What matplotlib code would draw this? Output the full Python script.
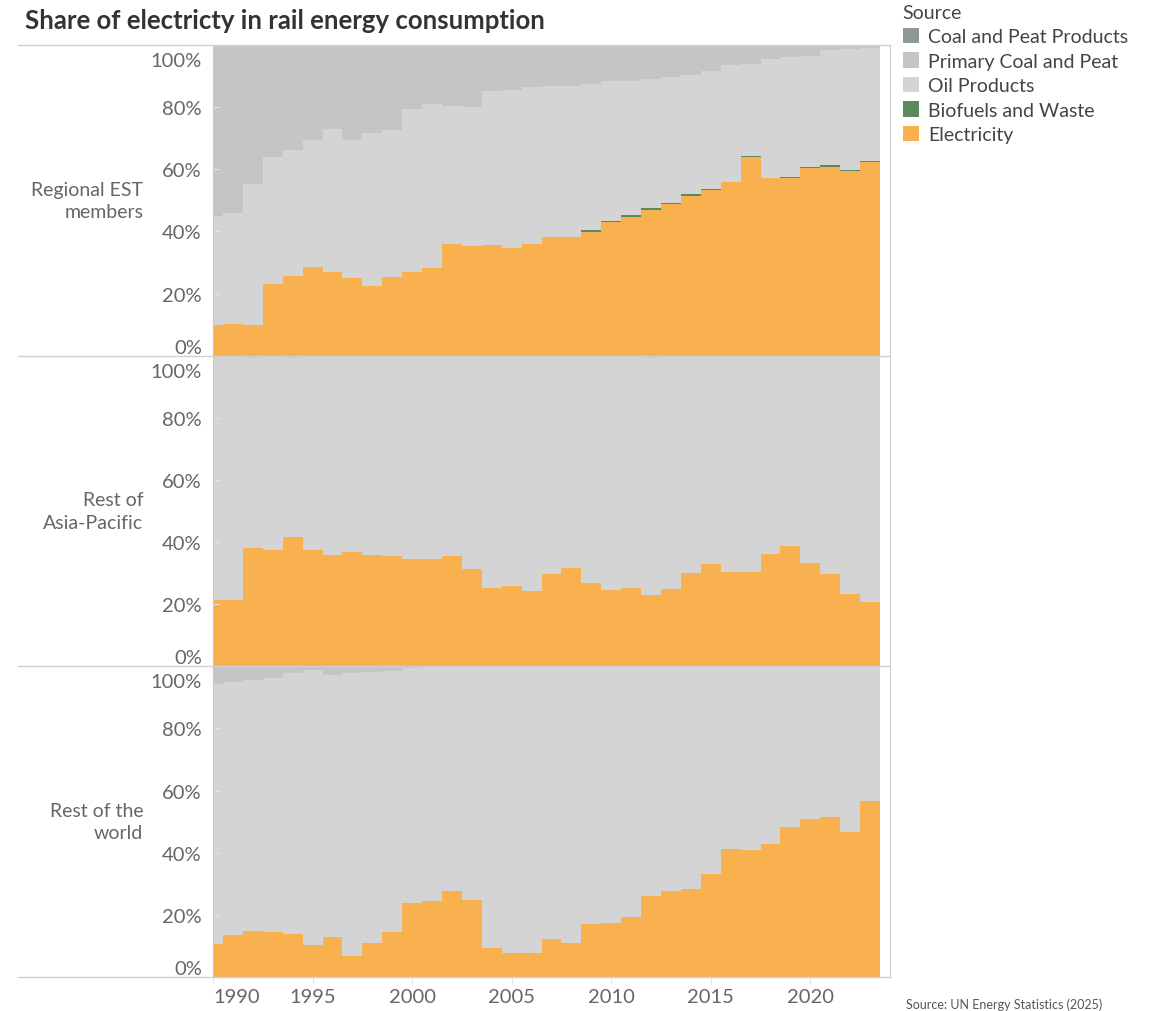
import numpy as np
import matplotlib.pyplot as plt
from matplotlib.patches import Patch
from matplotlib.lines import Line2D
from matplotlib.transforms import ScaledTranslation

plt.rcParams['font.family'] = ['Lato', 'DejaVu Sans']

years = np.arange(1990, 2024)

sources = ['Coal and Peat Products', 'Primary Coal and Peat', 'Oil Products',
           'Biofuels and Waste', 'Electricity']
colors = {'Coal and Peat Products': '#8e989a',
          'Primary Coal and Peat': '#c4c5c4',
          'Oil Products': '#d4d4d4',
          'Biofuels and Waste': '#5b8a5e',
          'Electricity': '#f9b04e'}

regions = ['Regional EST\nmembers', 'Rest of\nAsia-Pacific', 'Rest of the\nworld']

# shares in % (oil products is the remainder to 100%)
est_elec = [10.0, 10.3, 10.0, 23.2, 25.5, 28.4, 26.8, 24.9, 22.3, 25.4,
            26.8, 28.1, 35.8, 35.2, 35.5, 34.8, 36.1, 38.1, 38.1, 39.7,
            42.9, 44.5, 46.8, 48.7, 51.3, 53.2, 55.8, 63.9, 57.1, 57.1,
            60.3, 60.6, 59.4, 62.3]
est_bio = [0, 0, 0, 0, 0, 0, 0, 0, 0, 0,
           0, 0, 0, 0, 0, 0, 0, 0, 0, 0.6,
           0.3, 0.7, 0.6, 0.3, 0.6, 0.3, 0.0, 0.3, 0.0, 0.3,
           0.3, 0.7, 0.3, 0.3]
est_pcoal = [55.2, 54.2, 44.8, 36.1, 33.9, 30.6, 27.1, 30.6, 28.4, 27.4,
             20.6, 19.0, 19.4, 19.7, 14.5, 14.2, 13.2, 12.9, 12.9, 12.3,
             11.3, 11.3, 10.7, 10.0, 9.4, 8.1, 6.2, 5.8, 4.5, 3.9,
             3.5, 1.6, 1.3, 1.0]
est_cprod = [0, 0, 0, 0, 0, 0, 0, 0, 0, 0,
             0, 0, 0.3, 0.3, 0.3, 0.3, 0.3, 0.3, 0.3, 0.3,
             0.3, 0.3, 0.3, 0.3, 0.3, 0.3, 0.3, 0.3, 0, 0,
             0, 0, 0, 0]

ap_elec = [21.2, 21.2, 38.0, 37.6, 41.7, 37.6, 35.7, 36.7, 35.7, 35.4,
           34.6, 34.5, 35.4, 31.2, 25.1, 25.7, 24.1, 29.6, 31.5, 26.7,
           24.7, 25.1, 22.9, 25.0, 30.2, 32.8, 30.5, 30.5, 36.0, 38.6,
           33.4, 29.6, 23.4, 20.7]
ap_bio = [0] * 34
ap_pcoal = [0, 0.2, 0.6, 0.2, 0.9, 0.3, 0.3, 0.3, 0.3, 0.2,
            0, 0, 0, 0, 0, 0, 0, 0.3, 0.3, 0.3,
            0.3, 0.3, 0.6, 0.1, 0.4, 0.4, 0.4, 0.4, 0.4, 0.4,
            0.4, 0.4, 0.4, 0]
ap_cprod = [0] * 34

row_elec = [10.7, 13.4, 14.8, 14.6, 13.9, 10.4, 12.9, 6.8, 11.1, 14.6,
            23.9, 24.6, 27.8, 24.9, 9.4, 7.8, 7.8, 12.3, 10.8, 17.2,
            17.5, 19.4, 26.2, 27.8, 28.2, 33.0, 41.1, 40.8, 42.7, 48.3,
            50.9, 51.4, 46.6, 56.6]
row_bio = [0] * 34
row_pcoal = [5.7, 5.1, 4.4, 3.8, 2.2, 1.2, 2.8, 2.0, 1.8, 1.5,
             0.5, 0, 0, 0, 0, 0, 0, 0, 0, 0,
             0, 0, 0, 0, 0, 0, 0, 0, 0, 0,
             0, 0, 0, 0]
row_cprod = [0] * 34

panel_data = [(est_elec, est_bio, est_pcoal, est_cprod),
              (ap_elec, ap_bio, ap_pcoal, ap_cprod),
              (row_elec, row_bio, row_pcoal, row_cprod)]

W, H = 1158, 1012
fig = plt.figure(figsize=(W / 100, H / 100), dpi=100)

x0, x1 = 213 / W, 890 / W
ytop, ybot = 1 - 46 / H, 1 - 978 / H
ph = (ytop - ybot) / 3

grey_txt = '#666666'
line_col = '#d0d0d0'

# step edges centred on each year, clipped to the first year
edges = np.concatenate([[years[0]], years[1:] - 0.5, [years[-1] + 0.5]])

axes = []
for i, (elec, bio, pcoal, cprod) in enumerate(panel_data):
    ax = fig.add_axes([x0, ytop - (i + 1) * ph, x1 - x0, ph])
    axes.append(ax)
    elec = np.array(elec, float)
    bio = np.array(bio, float)
    pcoal = np.array(pcoal, float)
    cprod = np.array(cprod, float)
    oil = 100 - elec - bio - pcoal - cprod
    layers = [('Electricity', elec), ('Biofuels and Waste', bio),
              ('Oil Products', oil), ('Primary Coal and Peat', pcoal),
              ('Coal and Peat Products', cprod)]
    base = np.zeros(len(years))
    for name, vals in layers:
        top = base + vals
        ax.stairs(top, edges, baseline=base.copy(), fill=True,
                  color=colors[name], linewidth=0)
        base = top

    ax.set_xlim(1990, 2024)
    ax.set_ylim(0, 100)
    ax.set_yticks([0, 20, 40, 60, 80, 100],
                  labels=['0%', '20%', '40%', '60%', '80%', '100%'])
    ax.tick_params(axis='y', labelsize=14.5, labelcolor=grey_txt, length=4,
                   direction='in', color='#e4e4e4', pad=8)
    labs = ax.get_yticklabels()
    labs[0].set_va('bottom')
    labs[-1].set_va('top')
    labs[-1].set_transform(labs[-1].get_transform()
                           + ScaledTranslation(0, -5 / 72, fig.dpi_scale_trans))
    for s in ['top', 'bottom']:
        ax.spines[s].set_visible(False)
    ax.spines['left'].set_color('#c8c8c8')
    ax.spines['right'].set_color(line_col)
    ax.set_facecolor('white')

    ax.text(-0.103, 0.5, regions[i], transform=ax.transAxes, ha='right',
            va='center', fontsize=14, color=grey_txt, linespacing=1.4)

    if i < 2:
        ax.set_xticks([])
    else:
        ax.set_xticks([1990, 1995, 2000, 2005, 2010, 2015, 2020])
        ax.tick_params(axis='x', labelsize=14.5, labelcolor=grey_txt,
                       length=5, color='#e4e4e4', pad=3)
        ax.get_xticklabels()[0].set_ha('left')

# horizontal row separators spanning the header column
for k in range(4):
    yy = ytop - k * ph
    fig.add_artist(Line2D([18 / W, x1], [yy, yy], color=line_col, lw=1))

fig.text(25 / W, 1 - 21 / H, 'Share of electricty in rail energy consumption',
         fontsize=18.5, fontweight='bold', color='#333333', va='center')

handles = [Patch(facecolor=colors[s], edgecolor='none') for s in sources]
leg = fig.legend(handles, sources, loc='upper left',
                 bbox_to_anchor=(889 / W, 1 + 9 / H), frameon=False,
                 title='Source', alignment='left', fontsize=14,
                 title_fontsize=14, handlelength=0.85, handleheight=0.85,
                 handletextpad=0.45, labelspacing=0.36, borderaxespad=0.3)
for t in leg.get_texts():
    t.set_color('#444444')
leg.get_title().set_color('#444444')

fig.text(1102 / W, 1 - 1005 / H, 'Source: UN Energy Statistics (2025)',
         fontsize=9, color='#555555', ha='right', va='center')

fig.savefig('out.png', dpi=100)
